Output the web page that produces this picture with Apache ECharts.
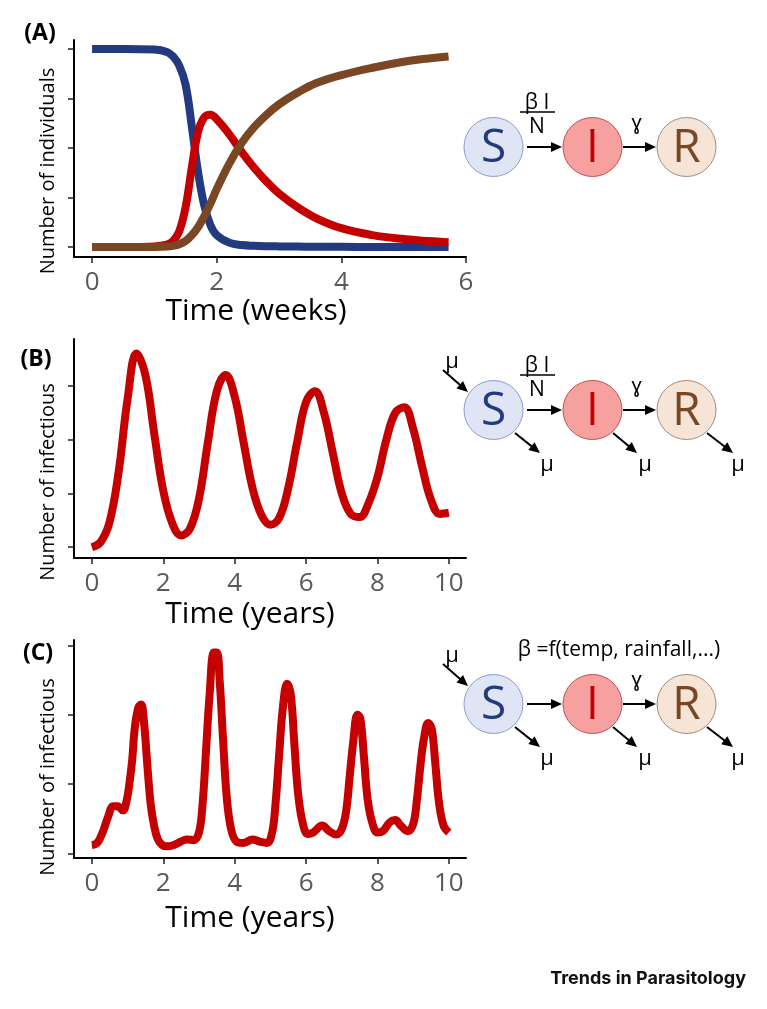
<!DOCTYPE html>
<html>
<head>
<meta charset="utf-8">
<script src="https://cdn.jsdelivr.net/npm/echarts@6/dist/echarts.min.js"></script>
<style>
html,body{margin:0;padding:0;background:#fff;}
#chart{width:767px;height:1009px;}
</style>
</head>
<body>
<div id="chart"></div>
<script>
// ---------- DATA ----------
// Panel A: classic SIR epidemic (time in weeks, population N = 1000)
const timeA = [0, 0.5, 1.0, 1.2, 1.3, 1.4, 1.5, 1.6, 1.7, 1.8, 1.9, 2.0, 2.2, 2.4, 2.6, 2.8, 3.0, 3.3, 3.6, 4.0, 4.5, 5.0, 5.4, 5.72];
const susceptibleA = [1000, 1000, 997, 985, 962, 915, 820, 610, 380, 210, 110, 60, 22, 10, 6, 4, 3, 2, 1, 1, 0, 0, 0, 0];
const infectiousA = [0, 0, 3, 12, 30, 80, 200, 400, 580, 655, 668, 645, 570, 480, 400, 330, 270, 200, 145, 95, 60, 40, 30, 24];
const recoveredA = [0, 0, 0, 2, 6, 14, 30, 60, 100, 155, 220, 292, 420, 525, 605, 668, 720, 780, 828, 868, 905, 935, 952, 962];
const ticksA_x = [0, 2, 4, 6];
const ticksA_y = [0, 250, 500, 750, 1000];

// Panel B: SIR with demography (time in years)
const timeB = [0, 0.25, 0.5, 0.75, 1.0, 1.25, 1.5, 1.75, 2.0, 2.25, 2.5, 2.75, 3.0, 3.25, 3.5, 3.75, 4.0, 4.25, 4.5, 4.75, 5.0, 5.25, 5.5, 5.75, 6.0, 6.25, 6.5, 6.75, 7.0, 7.25, 7.5, 7.75, 8.0, 8.25, 8.5, 8.75, 9.0, 9.25, 9.5, 9.75, 10.0];
const infectiousB = [0.0, 0.1, 0.48, 1.4, 2.75, 3.6, 3.2, 2.1, 1.05, 0.45, 0.22, 0.35, 0.9, 1.95, 2.9, 3.2, 2.8, 1.95, 1.1, 0.6, 0.42, 0.55, 1.1, 1.95, 2.7, 2.9, 2.5, 1.75, 1.0, 0.62, 0.56, 0.82, 1.3, 2.0, 2.5, 2.6, 2.2, 1.5, 0.88, 0.62, 0.64];
const ticksB_x = [0, 2, 4, 6, 8, 10];
const ticksB_y = [0, 1, 2, 3];

// Panel C: SIR with seasonally forced transmission (time in years)
const timeC = [0, 0.15, 0.3, 0.45, 0.6, 0.72, 0.87, 0.97, 1.05, 1.13, 1.2, 1.3, 1.38, 1.46, 1.55, 1.65, 1.75, 1.85, 1.97, 2.1, 2.3, 2.5, 2.65, 2.85, 3.0, 3.1, 3.2, 3.3, 3.42, 3.5, 3.58, 3.68, 3.78, 3.9, 4.05, 4.25, 4.5, 4.7, 4.9, 5.05, 5.15, 5.25, 5.35, 5.47, 5.57, 5.67, 5.77, 5.9, 6.05, 6.2, 6.45, 6.65, 6.85, 7.0, 7.12, 7.22, 7.32, 7.44, 7.52, 7.62, 7.72, 7.85, 8.0, 8.15, 8.35, 8.5, 8.65, 8.85, 9.0, 9.1, 9.2, 9.3, 9.42, 9.52, 9.62, 9.72, 9.85, 10.0];
const infectiousC = [0.12, 0.15, 0.3, 0.52, 0.68, 0.68, 0.62, 0.75, 1.0, 1.35, 1.8, 2.1, 2.15, 1.9, 1.3, 0.7, 0.38, 0.2, 0.12, 0.1, 0.12, 0.17, 0.2, 0.19, 0.3, 0.7, 1.5, 2.3, 2.9, 2.9, 2.5, 1.6, 0.8, 0.35, 0.17, 0.15, 0.2, 0.17, 0.15, 0.3, 0.75, 1.45, 2.1, 2.45, 2.3, 1.6, 0.9, 0.45, 0.28, 0.3, 0.4, 0.32, 0.27, 0.35, 0.6, 1.1, 1.6, 2.0, 1.95, 1.4, 0.8, 0.45, 0.3, 0.32, 0.45, 0.48, 0.4, 0.32, 0.42, 0.75, 1.25, 1.65, 1.88, 1.8, 1.3, 0.75, 0.4, 0.3];
const ticksC_x = [0, 2, 4, 6, 8, 10];
const ticksC_y = [0, 1, 2, 3];

// Text
const panelLabels = ['(A)', '(B)', '(C)'];
const xTitles = ['Time (weeks)', 'Time (years)', 'Time (years)'];
const yTitles = ['Number of individuals', 'Number of infectious', 'Number of infectious'];
const seriesNamesA = ['S', 'I', 'R'];

// ---------- STYLE ----------
const FONT = '"Open Sans", "Noto Sans", sans-serif';
const BLUE = '#233a80', RED = '#c40000', BROWN = '#7a4724';
const LW = 8;

function zip(xs, ys) { return xs.map((x, i) => [x, ys[i]]); }

function xAxisDef(gi, min, max, ticks) {
  return {
    type: 'value', gridIndex: gi, min: min, max: max,
    axisLine: { onZero: false, lineStyle: { color: '#000', width: 2 } },
    axisTick: { show: true, customValues: ticks, length: 6, lineStyle: { color: '#222', width: 1.5 } },
    axisLabel: { show: true, customValues: ticks, margin: 13, fontSize: 26, color: '#595959', fontFamily: FONT },
    splitLine: { show: false }
  };
}
function yAxisDef(gi, min, max, ticks) {
  return {
    type: 'value', gridIndex: gi, min: min, max: max,
    axisLine: { show: true, onZero: false, lineStyle: { color: '#000', width: 2 } },
    axisTick: { show: true, customValues: ticks, length: 6, lineStyle: { color: '#222', width: 1.5 } },
    axisLabel: { show: false },
    splitLine: { show: false }
  };
}
function lineSeries(name, xi, data, color) {
  return {
    name: name, type: 'line', xAxisIndex: xi, yAxisIndex: xi,
    data: data, smooth: 0.4, showSymbol: false, symbol: 'none',
    lineStyle: { color: color, width: LW, cap: 'butt', join: 'round' },
    silent: true, animation: false, clip: false
  };
}

// ---------- DIAGRAM HELPERS ----------
function arrow(x1, y1, x2, y2) {
  const dx = x2 - x1, dy = y2 - y1, L = Math.sqrt(dx * dx + dy * dy);
  const ux = dx / L, uy = dy / L, hl = 11, hw = 5;
  const bx = x2 - ux * hl, by = y2 - uy * hl;
  return [
    { type: 'line', shape: { x1: x1, y1: y1, x2: bx + ux * 2, y2: by + uy * 2 }, style: { stroke: '#000', lineWidth: 2 } },
    { type: 'polygon', shape: { points: [[x2, y2], [bx - uy * hw, by + ux * hw], [bx + uy * hw, by - ux * hw]] }, style: { fill: '#000' } }
  ];
}
function circleNode(cx, cy, letter, fill, stroke, color) {
  return [
    { type: 'circle', shape: { cx: cx, cy: cy, r: 29.5 }, style: { fill: fill, stroke: stroke, lineWidth: 1 } },
    { type: 'text', x: cx, y: cy + 2, style: { text: letter, fill: color, font: '46px ' + FONT, align: 'center', verticalAlign: 'middle' } }
  ];
}
function txt(x, y, s, size, opts) {
  opts = opts || {};
  return { type: 'text', x: x, y: y, rotation: opts.rotation || 0,
    style: { text: s, fill: opts.color || '#000', font: (opts.weight || 'normal') + ' ' + size + 'px ' + (opts.family || FONT), align: opts.align || 'center', verticalAlign: 'middle' } };
}
function sirDiagram(cy, opts) {
  const g = [];
  const xs = [493.5, 592.5, 686.5];
  g.push(...circleNode(xs[0], cy, 'S', '#dfe5f5', '#8c9dc9', '#233a80'));
  g.push(...circleNode(xs[1], cy, 'I', '#f7a0a0', '#c0504d', '#c00000'));
  g.push(...circleNode(xs[2], cy, 'R', '#f6e4d6', '#a68b77', '#7a4724'));
  g.push(...arrow(527, cy, 562, cy));
  g.push(...arrow(623, cy, 656, cy));
  g.push(txt(636.5, cy - 24, 'ɣ', 20));
  if (opts.frac) {
    g.push(txt(537, cy - 44, 'β I', 21));
    g.push({ type: 'line', shape: { x1: 520, y1: cy - 35, x2: 555, y2: cy - 35 }, style: { stroke: '#000', lineWidth: 1.5 } });
    g.push(txt(537, cy - 20, 'N', 21));
  }
  if (opts.demog) {
    g.push(txt(452, cy - 48, 'μ', 22));
    g.push(...arrow(443, cy - 40, 468, cy - 18));
    const offs = [[515, 540, 547], [613, 637, 645], [707, 733, 738]];
    offs.forEach(o => {
      g.push(...arrow(o[0], cy + 23, o[1], cy + 43));
      g.push(txt(o[2], cy + 55, 'μ', 22));
    });
  }
  return g;
}

// ---------- GRAPHIC (labels, titles, diagrams) ----------
const graphics = [];
const panelLabelPos = [[40, 33], [36, 359], [38, 653]];
panelLabels.forEach((s, i) => graphics.push(txt(panelLabelPos[i][0], panelLabelPos[i][1], s, 23, { weight: 'bold' })));
const xTitlePos = [[256, 311], [250, 614], [250, 918]];
xTitles.forEach((s, i) => graphics.push(txt(xTitlePos[i][0], xTitlePos[i][1], s, 30)));
const yTitlePos = [[48, 171], [48, 482], [48, 777]];
yTitles.forEach((s, i) => graphics.push(txt(yTitlePos[i][0], yTitlePos[i][1], s, 20, { rotation: Math.PI / 2 })));
graphics.push(...sirDiagram(147, { frac: true }));
graphics.push(...sirDiagram(410, { frac: true, demog: true }));
graphics.push(...sirDiagram(704, { demog: true }));
graphics.push(txt(619, 650, 'β =f(temp, rainfall,...)', 21));
graphics.push({ type: 'text', x: 746, y: 979,
  style: { text: 'Trends in Parasitology', fill: '#111', font: 'bold 18px Inter, "Liberation Sans", sans-serif', align: 'right', verticalAlign: 'middle' } });

// ---------- OPTION ----------
const option = {
  backgroundColor: '#fff',
  animation: false,
  grid: [
    { left: 74, top: 40, width: 392, height: 217, outerBoundsMode: 'none' },
    { left: 74, top: 339, width: 392, height: 219, outerBoundsMode: 'none' },
    { left: 74, top: 640, width: 392, height: 218, outerBoundsMode: 'none' }
  ],
  xAxis: [
    xAxisDef(0, -0.29, 6, ticksA_x),
    xAxisDef(1, -0.5, 10.48, ticksB_x),
    xAxisDef(2, -0.5, 10.48, ticksC_x)
  ],
  yAxis: [
    yAxisDef(0, -50.5, 1045, ticksA_y),
    yAxisDef(1, -0.2, 3.87, ticksB_y),
    yAxisDef(2, -0.068, 3.08, ticksC_y)
  ],
  series: [
    lineSeries(seriesNamesA[0], 0, zip(timeA, susceptibleA), BLUE),
    lineSeries(seriesNamesA[1], 0, zip(timeA, infectiousA), RED),
    lineSeries(seriesNamesA[2], 0, zip(timeA, recoveredA), BROWN),
    lineSeries('I', 1, zip(timeB, infectiousB), RED),
    lineSeries('I', 2, zip(timeC, infectiousC), RED)
  ],
  graphic: graphics
};

const chart = echarts.init(document.getElementById('chart'), null, { renderer: 'canvas' });
chart.setOption(option);
</script>
</body>
</html>
